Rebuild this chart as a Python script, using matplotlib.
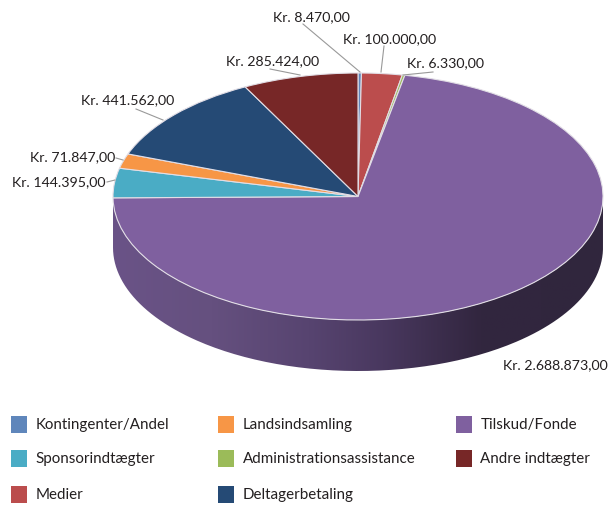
import numpy as np
import matplotlib
matplotlib.use('Agg')
import matplotlib.pyplot as plt
from matplotlib.colors import LinearSegmentedColormap
from matplotlib.patches import PathPatch, Rectangle
from matplotlib.path import Path

plt.rcParams['font.family'] = ['Lato', 'DejaVu Sans']

# slices, clockwise from 12 o'clock
names = ['Kontingenter/Andel', 'Medier', 'Administrationsassistance', 'Tilskud/Fonde',
         'Sponsorindtægter', 'Landsindsamling', 'Deltagerbetaling', 'Andre indtægter']
values = [8470, 100000, 6330, 2688873, 144395, 71847, 441562, 285424]
colors = ['#5f86bb', '#bb4d4d', '#9bbb59', '#7f609f', '#4aacc5', '#f79646', '#254a75', '#772727']
value_labels = ['Kr. 8.470,00', 'Kr. 100.000,00', 'Kr. 6.330,00', 'Kr. 2.688.873,00',
                'Kr. 144.395,00', 'Kr. 71.847,00', 'Kr. 441.562,00', 'Kr. 285.424,00']

legend_rows = [['Kontingenter/Andel', 'Landsindsamling', 'Tilskud/Fonde'],
               ['Sponsorindtægter', 'Administrationsassistance', 'Andre indtægter'],
               ['Medier', 'Deltagerbetaling']]
legend_x = [11, 218, 456]
legend_y = [425, 459, 495]

W, H = 616, 506
CX, CY, RX, RY, DEPTH = 358, 197.5, 245, 123.5, 51

fig = plt.figure(figsize=(W / 100, H / 100), dpi=100)

# overlay in pixel coordinates
ov = fig.add_axes([0, 0, 1, 1])
ov.set_xlim(0, W)
ov.set_ylim(H, 0)
ov.axis('off')

# side wall: a band below the front half of the ellipse, filled with a gradient
t = np.linspace(np.pi, 0, 200)
top = np.column_stack([CX + RX * np.cos(t), CY + RY * np.sin(t)])
bottom = top[::-1] + [0, DEPTH]
band = Path(np.vstack([top, bottom, top[:1]]))
wall_cmap = LinearSegmentedColormap.from_list('wall', [
    (0.0, '#6a5387'), (0.2, '#65507f'), (0.4, '#574470'),
    (0.55, '#49385f'), (0.75, '#32263f'), (1.0, '#30263d')])
grad = np.linspace(0, 1, 256).reshape(1, -1)
img = ov.imshow(grad, cmap=wall_cmap, aspect='auto',
                extent=[CX - RX, CX + RX, CY + RY + DEPTH, CY])
clip = PathPatch(band, transform=ov.transData, fc='none', ec='none')
ov.add_patch(clip)
img.set_clip_path(clip)
ov.set_xlim(0, W)
ov.set_ylim(H, 0)

# flat top of the pie, squashed by giving it non-square axes
ax = fig.add_axes([(CX - RX) / W, 1 - (CY + RY) / H, 2 * RX / W, 2 * RY / H])
ax.pie(values, colors=colors, startangle=90, counterclock=False, radius=1,
       wedgeprops={'edgecolor': '#e2dee6', 'linewidth': 0.8, 'clip_on': False})
ax.set_aspect('auto')
ax.set_xlim(-1, 1)
ax.set_ylim(-1, 1)
ax.set_zorder(2)

# value labels with leader lines, pixel positions
label_pos = [(273, 17, 303, 25, 360, 73), (343, 39, 384, 47, 381, 73),
             (407, 63, 433, 73, 403, 76), (503, 365, None, None, None, None),
             (12, 182, 107, 183, 115, 181), (30, 157, 116, 159, 123, 161),
             (81, 100, 136, 110, 163, 121), (226, 61, 270, 70, 300, 76)]
top_ov = fig.add_axes([0, 0, 1, 1], zorder=3)
top_ov.set_xlim(0, W)
top_ov.set_ylim(H, 0)
top_ov.axis('off')
for lab, (tx, ty, x0, y0, x1, y1) in zip(value_labels, label_pos):
    top_ov.text(tx, ty, lab, fontsize=10.2, color='#231f20', va='center', ha='left')
    if x0 is not None:
        top_ov.plot([x0, x1], [y0, y1], color='#999999', lw=0.8)

# legend
for row, y in zip(legend_rows, legend_y):
    for name, x in zip(row, legend_x):
        top_ov.add_patch(Rectangle((x, y - 8), 16, 17, color=colors[names.index(name)], lw=0))
        top_ov.text(x + 24.5, y + 0.5, name, fontsize=10.9, color='#231f20', va='center', ha='left')

fig.savefig('out.png', dpi=100)
